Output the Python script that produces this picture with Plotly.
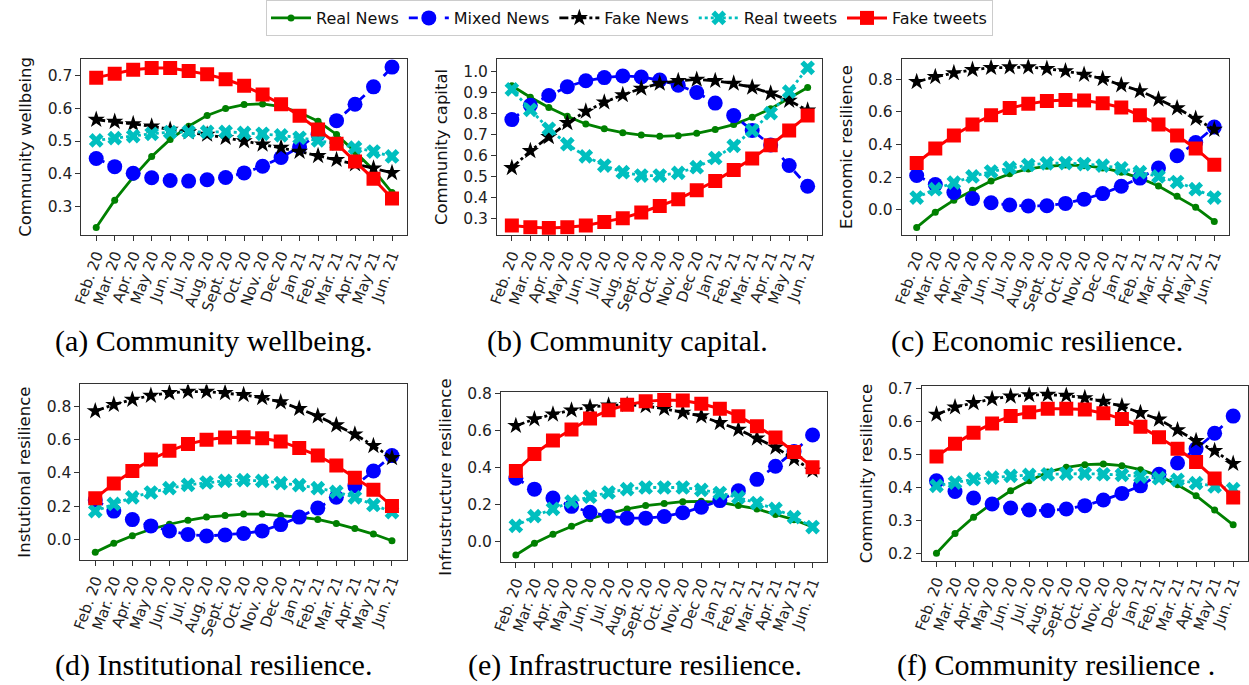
import plotly.graph_objects as go

W, H = 1249, 685

months = ["Feb. 20", "Mar. 20", "Apr. 20", "May 20", "Jun. 20", "Jul. 20", "Aug. 20",
          "Sept. 20", "Oct. 20", "Nov. 20", "Dec 20", "Jan 21", "Feb. 21", "Mar. 21",
          "Apr. 21", "May 21", "Jun. 21"]

series_names = ["Real News", "Mixed News", "Fake News", "Real tweets", "Fake tweets"]

# (a) Community wellbeing
wellbeing_real_news = [0.237, 0.32, 0.39, 0.453, 0.505, 0.545, 0.578, 0.599, 0.611, 0.613, 0.605, 0.587, 0.56, 0.52, 0.467, 0.412, 0.343]
wellbeing_mixed_news = [0.447, 0.422, 0.402, 0.388, 0.38, 0.378, 0.382, 0.389, 0.403, 0.423, 0.45, 0.482, 0.52, 0.562, 0.612, 0.665, 0.725]
wellbeing_fake_news = [0.565, 0.559, 0.552, 0.545, 0.535, 0.527, 0.52, 0.51, 0.50, 0.49, 0.48, 0.468, 0.455, 0.443, 0.43, 0.417, 0.403]
wellbeing_real_tweets = [0.502, 0.509, 0.515, 0.522, 0.527, 0.528, 0.528, 0.528, 0.525, 0.522, 0.517, 0.51, 0.502, 0.492, 0.48, 0.468, 0.453]
wellbeing_fake_tweets = [0.693, 0.705, 0.717, 0.722, 0.722, 0.713, 0.703, 0.688, 0.668, 0.642, 0.612, 0.577, 0.535, 0.492, 0.438, 0.385, 0.325]

# (b) Community capital
capital_real_news = [0.934, 0.879, 0.830, 0.788, 0.751, 0.728, 0.709, 0.698, 0.692, 0.695, 0.706, 0.725, 0.748, 0.783, 0.824, 0.874, 0.926]
capital_mixed_news = [0.772, 0.841, 0.887, 0.929, 0.958, 0.973, 0.981, 0.976, 0.961, 0.937, 0.902, 0.851, 0.791, 0.72, 0.65, 0.552, 0.453]
capital_fake_news = [0.541, 0.622, 0.689, 0.756, 0.811, 0.855, 0.89, 0.921, 0.945, 0.958, 0.964, 0.958, 0.945, 0.926, 0.898, 0.863, 0.816]
capital_real_tweets = [0.917, 0.819, 0.728, 0.654, 0.596, 0.552, 0.52, 0.504, 0.504, 0.517, 0.544, 0.588, 0.646, 0.72, 0.803, 0.906, 1.02]
capital_fake_tweets = [0.265, 0.256, 0.253, 0.256, 0.265, 0.281, 0.30, 0.327, 0.358, 0.391, 0.434, 0.478, 0.531, 0.586, 0.649, 0.72, 0.792]

# (c) Economic resilience
economic_real_news = [-0.107, -0.014, 0.06, 0.121, 0.177, 0.221, 0.251, 0.267, 0.275, 0.271, 0.257, 0.231, 0.195, 0.147, 0.084, 0.016, -0.07]
economic_mixed_news = [0.211, 0.155, 0.107, 0.07, 0.044, 0.03, 0.024, 0.026, 0.04, 0.066, 0.10, 0.145, 0.195, 0.257, 0.332, 0.412, 0.507]
economic_fake_news = [0.784, 0.814, 0.838, 0.858, 0.87, 0.874, 0.874, 0.864, 0.85, 0.828, 0.802, 0.764, 0.728, 0.677, 0.623, 0.559, 0.492]
economic_real_tweets = [0.076, 0.127, 0.167, 0.205, 0.235, 0.257, 0.275, 0.285, 0.287, 0.281, 0.271, 0.255, 0.231, 0.205, 0.171, 0.127, 0.076]
economic_fake_tweets = [0.287, 0.376, 0.456, 0.523, 0.579, 0.623, 0.649, 0.667, 0.673, 0.669, 0.653, 0.627, 0.579, 0.523, 0.456, 0.376, 0.277]

# (d) Institutional resilience
institutional_real_news = [-0.077, -0.024, 0.022, 0.061, 0.091, 0.115, 0.134, 0.144, 0.152, 0.152, 0.144, 0.134, 0.12, 0.095, 0.065, 0.032, -0.008]
institutional_mixed_news = [0.237, 0.17, 0.119, 0.081, 0.051, 0.03, 0.02, 0.026, 0.036, 0.051, 0.089, 0.134, 0.188, 0.253, 0.322, 0.411, 0.504]
institutional_fake_news = [0.772, 0.81, 0.841, 0.865, 0.881, 0.889, 0.889, 0.881, 0.869, 0.851, 0.826, 0.786, 0.741, 0.687, 0.632, 0.563, 0.49]
institutional_real_tweets = [0.17, 0.213, 0.253, 0.282, 0.308, 0.328, 0.342, 0.352, 0.356, 0.352, 0.338, 0.326, 0.308, 0.286, 0.253, 0.207, 0.164]
institutional_fake_tweets = [0.247, 0.336, 0.411, 0.48, 0.533, 0.573, 0.599, 0.612, 0.614, 0.608, 0.589, 0.549, 0.504, 0.444, 0.371, 0.298, 0.2]

# (e) Infrastructure resilience
infra_real_news = [-0.075, -0.012, 0.037, 0.08, 0.121, 0.148, 0.174, 0.192, 0.204, 0.213, 0.215, 0.21, 0.192, 0.174, 0.144, 0.116, 0.076]
infra_mixed_news = [0.34, 0.281, 0.233, 0.188, 0.156, 0.135, 0.124, 0.124, 0.133, 0.153, 0.183, 0.219, 0.272, 0.334, 0.405, 0.485, 0.574]
infra_fake_news = [0.624, 0.66, 0.686, 0.708, 0.725, 0.734, 0.738, 0.731, 0.716, 0.695, 0.676, 0.64, 0.604, 0.556, 0.507, 0.444, 0.382]
infra_real_tweets = [0.082, 0.135, 0.174, 0.213, 0.24, 0.263, 0.281, 0.29, 0.29, 0.29, 0.277, 0.26, 0.236, 0.206, 0.174, 0.13, 0.076]
infra_fake_tweets = [0.379, 0.471, 0.544, 0.604, 0.663, 0.708, 0.738, 0.756, 0.764, 0.761, 0.743, 0.716, 0.676, 0.622, 0.56, 0.482, 0.40]

# (f) Community resilience
resilience_real_news = [0.201, 0.261, 0.31, 0.352, 0.39, 0.42, 0.447, 0.461, 0.469, 0.471, 0.466, 0.454, 0.435, 0.408, 0.375, 0.332, 0.287]
resilience_mixed_news = [0.42, 0.388, 0.368, 0.35, 0.338, 0.332, 0.33, 0.335, 0.345, 0.362, 0.382, 0.405, 0.44, 0.474, 0.517, 0.564, 0.616]
resilience_fake_news = [0.621, 0.643, 0.656, 0.668, 0.676, 0.68, 0.681, 0.678, 0.671, 0.66, 0.646, 0.626, 0.606, 0.574, 0.541, 0.511, 0.472]
resilience_real_tweets = [0.405, 0.415, 0.425, 0.43, 0.435, 0.438, 0.44, 0.442, 0.442, 0.44, 0.438, 0.433, 0.428, 0.423, 0.413, 0.403, 0.395]
resilience_fake_tweets = [0.494, 0.532, 0.566, 0.594, 0.616, 0.628, 0.638, 0.638, 0.636, 0.625, 0.607, 0.584, 0.552, 0.517, 0.477, 0.427, 0.37]

panels = [
    dict(ylabel="Community wellbeing", caption="(a) Community wellbeing.",
         data=[wellbeing_real_news, wellbeing_mixed_news, wellbeing_fake_news, wellbeing_real_tweets, wellbeing_fake_tweets],
         box=(72, 400, 52, 230), yrange=(0.215, 0.749), dtick=0.1, cap=(205, 338)),
    dict(ylabel="Community capital", caption="(b) Community capital.",
         data=[capital_real_news, capital_mixed_news, capital_fake_news, capital_real_tweets, capital_fake_tweets],
         box=(491, 819, 52, 230), yrange=(0.221, 1.061), dtick=0.1, cap=(622, 338)),
    dict(ylabel="Economic resilience", caption="(c) Economic resilience.",
         data=[economic_real_news, economic_mixed_news, economic_fake_news, economic_real_tweets, economic_fake_tweets],
         box=(899, 1229, 52, 230), yrange=(-0.151, 0.922), dtick=0.2, cap=(1035, 338)),
    dict(ylabel="Instutional resilience", caption="(d) Institutional resilience.",
         data=[institutional_real_news, institutional_mixed_news, institutional_fake_news, institutional_real_tweets, institutional_fake_tweets],
         box=(71, 400, 382, 560), yrange=(-0.123, 0.932), dtick=0.2, cap=(205, 667)),
    dict(ylabel="Infrustructure resilience", caption="(e) Infrastructure resilience.",
         data=[infra_real_news, infra_mixed_news, infra_fake_news, infra_real_tweets, infra_fake_tweets],
         box=(495, 824, 390, 562), yrange=(-0.112, 0.805), dtick=0.2, cap=(630, 667)),
    dict(ylabel="Community resilience", caption="(f) Community resilience .",
         data=[resilience_real_news, resilience_mixed_news, resilience_fake_news, resilience_real_tweets, resilience_fake_tweets],
         box=(919, 1248, 384, 561), yrange=(0.178, 0.706), dtick=0.1, cap=(1054, 667)),
]

styles = [
    dict(color="#008000", dash="solid", symbol="circle", size=7, width=2.8),
    dict(color="#0000ff", dash="dash", symbol="circle", size=15, width=2.8),
    dict(color="#000000", dash="dashdot", symbol="star", size=13, width=2.8),
    dict(color="#00bfbf", dash="dot", symbol="x", size=13, width=2.8),
    dict(color="#ff0000", dash="solid", symbol="square", size=14, width=3),
]

fig = go.Figure()
xtick_font = dict(family="DejaVu Sans", size=15, color="#222222")
ytick_font = dict(family="DejaVu Sans", size=15.5, color="#222222")

for i, p in enumerate(panels):
    n = i + 1
    xa = "x" if n == 1 else f"x{n}"
    ya = "y" if n == 1 else f"y{n}"
    for k, (name, st) in enumerate(zip(series_names, styles)):
        fig.add_trace(go.Scatter(
            x=months, y=p["data"][k], name=name, mode="lines+markers",
            xaxis=xa, yaxis=ya, legendgroup=name, showlegend=(i == 0),
            line=dict(color=st["color"], dash=st["dash"], width=st["width"]),
            marker=dict(color=st["color"], symbol=st["symbol"], size=st["size"], line=dict(width=0)),
        ))
    x0, x1, y0, y1 = p["box"]
    common = dict(showline=True, linecolor="#333333", linewidth=1, mirror=True,
                  ticks="outside", ticklen=5, tickcolor="#333333", showgrid=False,
                  zeroline=False)
    fig.layout[f"xaxis{'' if n == 1 else n}"] = dict(
        domain=[x0 / W, x1 / W], anchor=ya, type="category",
        tickmode="array", tickvals=months, ticktext=months, tickfont=xtick_font,
        range=[-0.8, 16.8], tickangle=-70, **common)
    fig.layout[f"yaxis{'' if n == 1 else n}"] = dict(
        domain=[1 - y1 / H, 1 - y0 / H], anchor=xa, range=list(p["yrange"]),
        dtick=p["dtick"], tick0=0, tickformat=".1f", tickfont=ytick_font,
        title=dict(text=p["ylabel"], font=dict(family="DejaVu Sans", size=16.5, color="#111111"), standoff=11),
        **common)
    cx, cy = p["cap"]
    fig.add_annotation(text=p["caption"], x=cx / W, y=1 - cy / H, xref="paper", yref="paper",
                       showarrow=False, xanchor="center", yanchor="middle",
                       font=dict(family="Liberation Serif", size=30, color="#000000"))

fig.update_layout(
    width=W, height=H, margin=dict(l=0, r=0, t=0, b=0),
    paper_bgcolor="white", plot_bgcolor="white",
    legend=dict(orientation="h", x=0.5, xanchor="center", y=1.012, yanchor="top",
                bordercolor="#cccccc", borderwidth=1, bgcolor="white",
                font=dict(family="DejaVu Sans", size=16, color="#111111"),
                itemwidth=40, tracegroupgap=0),
)

fig.write_html("out.html")
